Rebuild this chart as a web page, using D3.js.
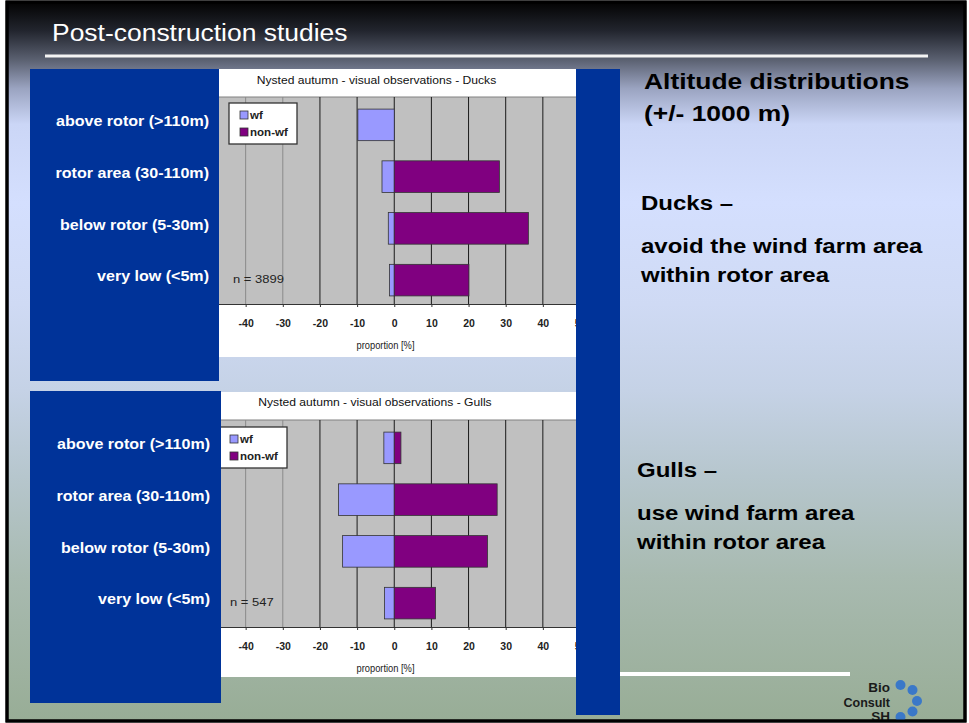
<!DOCTYPE html>
<html><head><meta charset="utf-8">
<script src="https://cdn.jsdelivr.net/npm/d3@7"></script>
<style>html,body{margin:0;padding:0;background:#fff;}svg{display:block;font-family:"Liberation Sans",Arial,sans-serif;}</style>
</head><body>
<svg id="c" width="969" height="723"></svg>
<script>
// ---- data ----
const categories = ["above rotor (>110m)", "rotor area (30-110m)", "below rotor (5-30m)", "very low (<5m)"];
const seriesNames = ["wf", "non-wf"];
const ducksWf = [-9.8, -3.3, -1.6, -1.3];
const ducksNonWf = [0, 28.3, 36.1, 20.1];
const gullsWf = [-2.8, -15.0, -13.9, -2.6];
const gullsNonWf = [1.8, 27.7, 25.1, 11.1];
const tickValues = [-50, -40, -30, -20, -10, 0, 10, 20, 30, 40, 50];
const ducksTitle = "Nysted autumn - visual observations - Ducks";
const gullsTitle = "Nysted autumn - visual observations - Gulls";
const ducksN = "n = 3899";
const gullsN = "n = 547";

const svg = d3.select("#c");
function stretch(sel, f) {
  sel.each(function () {
    const l = this.getComputedTextLength();
    d3.select(this).attr("textLength", l * f).attr("lengthAdjust", "spacingAndGlyphs");
  });
  return sel;
}

const defs = svg.append("defs");
const bg = defs.append("linearGradient").attr("id", "bg").attr("x1", 0).attr("y1", 0).attr("x2", 0).attr("y2", 1);
[[0, "#030303"], [0.04, "#22252e"], [0.08, "#5a6070"], [0.12, "#9aa3c0"], [0.17, "#cbd6f6"], [0.28, "#d4dffe"], [0.42, "#cfdaf4"], [0.54, "#c5d2e6"], [0.66, "#b6c6cd"], [0.8, "#a8bab0"], [1, "#98ad96"]]
  .forEach(([o, c]) => bg.append("stop").attr("offset", o).attr("stop-color", c));

svg.append("rect").attr("x", 7).attr("y", 2).attr("width", 958).attr("height", 719)
  .attr("fill", "url(#bg)").attr("stroke", "#000").attr("stroke-width", 3);

// header
stretch(svg.append("text").attr("x", 52).attr("y", 41).attr("fill", "#fff")
  .style("font-size", "23px").text("Post-construction studies"), 1.15);
svg.append("rect").attr("x", 45).attr("y", 54.5).attr("width", 883).attr("height", 3).attr("fill", "#f4f4f4");

const colors = {"wf": "#9999ff", "non-wf": "#800080"};

function drawChart(cfg) {
  const g = svg.append("g");
  g.append("rect").attr("x", cfg.whiteX).attr("y", cfg.whiteY).attr("width", 577 - cfg.whiteX)
    .attr("height", cfg.whiteH).attr("fill", "#fff");
  stretch(g.append("text").attr("x", cfg.titleX).attr("y", cfg.titleY).attr("text-anchor", "middle")
    .attr("dy", "0.35em").attr("fill", "#111").style("font-size", "11px").text(cfg.title), 1.1);

  const x = d3.scaleLinear().domain([-50, 50]).range([208.5, 580]);
  const y = d3.scaleBand().domain(categories).range([cfg.top + 2, cfg.bottom + 2]).paddingInner(0.39).paddingOuter(0.195);

  g.append("rect").attr("x", 200).attr("y", cfg.top).attr("width", 390).attr("height", cfg.bottom - cfg.top)
    .attr("fill", "#c0c0c0");
  g.append("line").attr("x1", 200).attr("x2", 590).attr("y1", cfg.top).attr("y2", cfg.top)
    .attr("stroke", "#808080").attr("stroke-width", 1);

  g.selectAll(".grid").data(tickValues.filter(t => Math.abs(t) < 50)).join("line")
    .attr("x1", d => x(d)).attr("x2", d => x(d)).attr("y1", cfg.top).attr("y2", cfg.bottom)
    .attr("stroke", d => d < -20 ? "#8a8a8a" : "#1a1a1a").attr("stroke-width", 1);

  const rows = categories.map((c, i) => ({c, wf: cfg.wf[i], nwf: cfg.nwf[i]}));
  g.selectAll(".wf").data(rows.filter(r => r.wf !== 0)).join("rect")
    .attr("x", d => x(Math.min(0, d.wf))).attr("width", d => Math.abs(x(d.wf) - x(0)))
    .attr("y", d => y(d.c)).attr("height", y.bandwidth())
    .attr("fill", colors["wf"]).attr("stroke", "#333").attr("stroke-width", 0.8);
  g.selectAll(".nwf").data(rows.filter(r => r.nwf !== 0)).join("rect")
    .attr("x", d => x(0)).attr("width", d => Math.abs(x(d.nwf) - x(0)))
    .attr("y", d => y(d.c)).attr("height", y.bandwidth())
    .attr("fill", colors["non-wf"]).attr("stroke", "#333").attr("stroke-width", 0.8);

  const ax = g.append("g").attr("transform", `translate(0,${cfg.bottom})`)
    .call(d3.axisBottom(x).tickValues(tickValues).tickFormat(d => String(d)).tickSize(3).tickPadding(13).tickSizeOuter(0));
  ax.select(".domain").attr("stroke", "#333");
  ax.selectAll(".tick line").attr("stroke", "#333");
  ax.selectAll(".tick text").attr("fill", "#222").style("font-size", "10.5px").style("font-weight", "bold")
    .style("font-family", "\"Liberation Sans\",Arial,sans-serif");

  g.append("text").attr("x", 385.5).attr("y", cfg.bottom + 41).attr("dy", "0.35em").attr("text-anchor", "middle")
    .attr("fill", "#222").style("font-size", "11.5px").attr("textLength", 58).attr("lengthAdjust", "spacingAndGlyphs")
    .text("proportion [%]");

  stretch(g.append("text").attr("x", cfg.nX).attr("y", y(categories[3]) + y.bandwidth() / 2 - 1).attr("dy", "0.35em")
    .attr("fill", "#222").style("font-size", "11px").text(cfg.n), 1.18);

  // legend
  const lg = g.append("g");
  lg.append("rect").attr("x", cfg.legX).attr("y", cfg.legY).attr("width", cfg.legW).attr("height", 41)
    .attr("fill", "#fff").attr("stroke", "#333").attr("stroke-width", 1.3);
  seriesNames.forEach((s, i) => {
    lg.append("rect").attr("x", cfg.legX + cfg.swX).attr("y", cfg.legY + 8 + i * 17).attr("width", 8).attr("height", 8)
      .attr("fill", colors[s]).attr("stroke", "#333").attr("stroke-width", 0.8);
    stretch(lg.append("text").attr("x", cfg.legX + cfg.swX + 10).attr("y", cfg.legY + 12 + i * 17).attr("dy", "0.35em")
      .attr("fill", "#222").style("font-size", "11px").style("font-weight", "bold").text(s), 1.05);
  });

  // left blue panel with category labels
  svg.append("rect").attr("x", 30).attr("y", cfg.panelY).attr("width", cfg.panelW).attr("height", cfg.panelH).attr("fill", "#003399");
  stretch(svg.selectAll(null).data(categories).join("text")
    .attr("x", cfg.labelX).attr("y", d => y(d) + y.bandwidth() / 2 - 4).attr("dy", "0.35em")
    .attr("text-anchor", "end").attr("fill", "#fff").style("font-size", "15px").style("font-weight", "bold")
    .text(d => d), 1.07);
}

drawChart({whiteX: 219, whiteY: 69, whiteH: 288, titleX: 376.5, titleY: 80, top: 97, bottom: 304, wf: ducksWf, nwf: ducksNonWf,
  title: ducksTitle, n: ducksN, nX: 233, legX: 229, legY: 103, legW: 68, swX: 11,
  panelY: 69, panelW: 189, panelH: 312, labelX: 209});
drawChart({whiteX: 221, whiteY: 392, whiteH: 285, titleX: 375, titleY: 402, top: 420, bottom: 627, wf: gullsWf, nwf: gullsNonWf,
  title: gullsTitle, n: gullsN, nX: 230, legX: 210, legY: 427, legW: 77, swX: 20,
  panelY: 391, panelW: 191, panelH: 312, labelX: 210});

// right strip
svg.append("rect").attr("x", 576).attr("y", 69).attr("width", 44).attr("height", 646).attr("fill", "#003399");

// right text
const rt = svg.append("g").attr("fill", "#000").style("font-weight", "bold");
const big = [["Altitude distributions", 644, 89], ["(+/- 1000 m)", 644, 121]];
const small = [["Ducks –", 641, 210], ["avoid the wind farm area", 641, 253], ["within rotor area", 641, 282],
  ["Gulls –", 637, 477], ["use wind farm area", 637, 520], ["within rotor area", 637, 549]];
big.forEach(([t, x, y]) => stretch(rt.append("text").attr("x", x).attr("y", y).style("font-size", "22px").text(t), 1.2));
small.forEach(([t, x, y]) => stretch(rt.append("text").attr("x", x).attr("y", y).style("font-size", "20px").text(t), 1.2));

// bottom line + logo
svg.append("rect").attr("x", 620).attr("y", 672).attr("width", 230).attr("height", 4).attr("fill", "#fff");
const logo = svg.append("g").attr("fill", "#1a1a1a").style("font-weight", "bold").style("font-size", "12.5px")
  .attr("text-anchor", "end");
stretch(logo.append("text").attr("x", 890).attr("y", 692).text("Bio"), 1.08);
stretch(logo.append("text").attr("x", 890).attr("y", 706.5).text("Consult"), 1.0);
stretch(logo.append("text").attr("x", 890).attr("y", 720.5).text("SH"), 1.08);
[[900.5, 685], [912.5, 690], [917, 701], [912.5, 711.5], [900.5, 717]].forEach(([cx, cy]) =>
  svg.append("circle").attr("cx", cx).attr("cy", cy).attr("r", 5).attr("fill", "#3a78c8"));
// border over logo
svg.append("rect").attr("x", 7).attr("y", 2).attr("width", 958).attr("height", 719)
  .attr("fill", "none").attr("stroke", "#000").attr("stroke-width", 3);
</script>
</body></html>
